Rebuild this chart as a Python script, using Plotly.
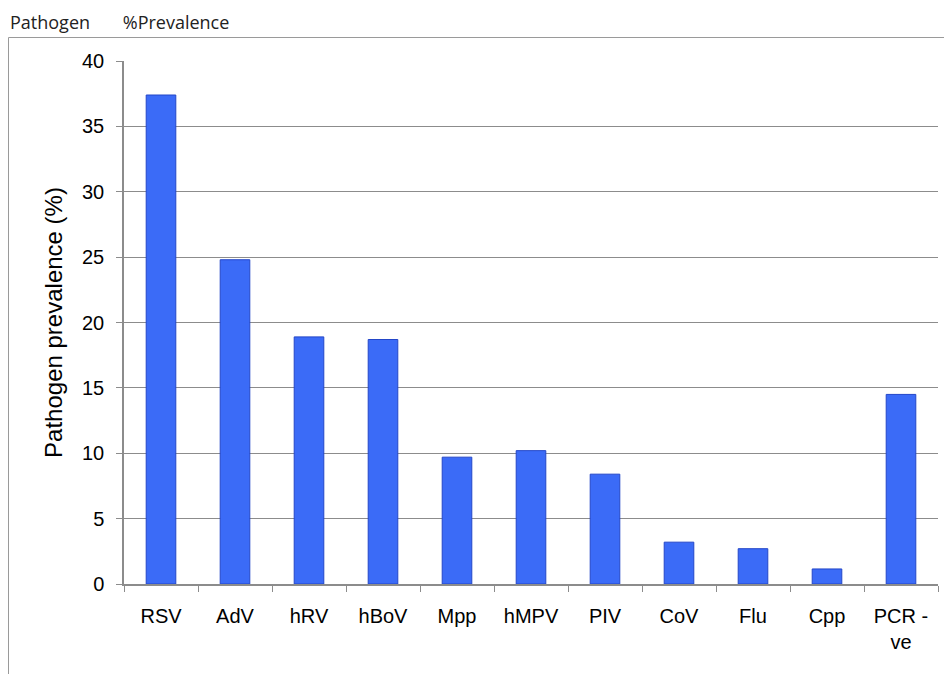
import plotly.graph_objects as go

categories = ["RSV", "AdV", "hRV", "hBoV", "Mpp", "hMPV", "PIV", "CoV", "Flu", "Cpp", "PCR -<br>ve"]
prevalence = [37.4, 24.8, 18.9, 18.7, 9.7, 10.2, 8.4, 3.2, 2.7, 1.15, 14.5]
y_ticks = [0, 5, 10, 15, 20, 25, 30, 35, 40]

fig = go.Figure()
fig.add_trace(go.Bar(
    x=categories, y=prevalence, width=0.4,
    marker=dict(color="#3B6BF7", line=dict(color="#2346C8", width=1)),
))

# page has an 8px body margin; figure occupies page 8..952 x 8..674
W, H = 944, 666
L, R, T, B = 116, 14, 53, 90
pw, ph = W - L - R, H - T - B

def px(x):
    return (x - 8 - L) / pw

def py(y):
    return (H - B - (y - 8)) / ph

fig.update_layout(
    width=W, height=H,
    margin=dict(l=L, r=R, t=T, b=B),
    paper_bgcolor="white", plot_bgcolor="white",
    showlegend=False,
    font=dict(family="Liberation Sans, Arial, sans-serif", size=20, color="#000"),
    xaxis=dict(
        showline=True, linecolor="#8c8c8c", linewidth=1.5,
        ticks="outside", tickson="boundaries", ticklen=6, tickcolor="#8c8c8c",
        showgrid=False, tickfont=dict(size=20), ticklabelstandoff=13,
    ),
    yaxis=dict(
        range=[0, 40], tickvals=y_ticks,
        showline=True, linecolor="#8c8c8c", linewidth=1.5,
        ticks="outside", ticklen=6, tickcolor="#8c8c8c",
        showgrid=True, gridcolor="#8c8c8c", gridwidth=1,
        zeroline=False, tickfont=dict(size=20), ticklabelstandoff=8,
        title=dict(text="Pathogen prevalence (%)", font=dict(size=24), standoff=13),
    ),
    shapes=[dict(
        type="rect", xref="paper", yref="paper",
        x0=px(8.5), x1=px(1000), y0=py(37.5), y1=py(720),
        line=dict(color="#9a9a9a", width=1), layer="below",
    )],
    annotations=[dict(
        text="Pathogen&nbsp;&nbsp;&nbsp;&nbsp;&nbsp;&nbsp;&nbsp;%Prevalence", xref="paper", yref="paper",
        x=px(8), y=py(8), xanchor="left", yanchor="top", showarrow=False,
        font=dict(family="Open Sans, sans-serif", size=18, color="#222"),
    )],
)

fig.write_html("out.html")
